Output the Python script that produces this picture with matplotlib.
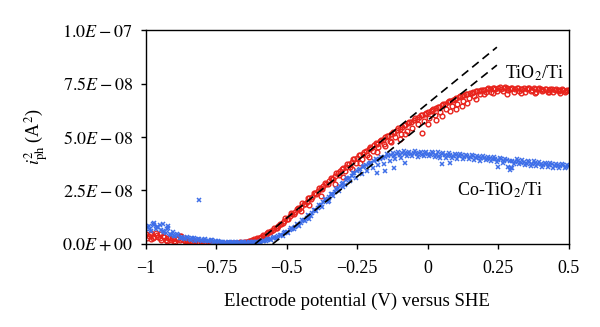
import numpy as np
import matplotlib
matplotlib.use("Agg")
import matplotlib.pyplot as plt

plt.rcParams['font.family'] = ['Liberation Serif', 'DejaVu Serif']
plt.rcParams['mathtext.fontset'] = 'stix'

# Electrode potential sweeps (V vs SHE)
potential = np.round(np.linspace(-1.0, 0.5, 151), 3)
potential2 = np.round(np.linspace(-0.995, 0.495, 150), 3)

# i_ph^2 in units of 1e-9 A^2
tio2 = [4.5, 3.8, 5.0, 3.2, 4.1, 2.6, 3.5, 2.0, 2.9, 1.8,
        1.5, 2.2, 3.6, 2.4, 1.2, 1.6, 1.0, 1.3, 0.8, 1.1,
        0.7, 0.9, 0.5, 0.6, 0.3, 0.4, 0.2, 0.3, 0.1, 0.3,
        0.2, 0.4, 0.3, 0.5, 0.6, 0.8, 0.9, 1.2, 1.6, 2.0,
        2.6, 3.4, 3.9, 4.9, 5.6, 6.5, 7.4, 8.5, 9.3, 10.6,
        11.8, 12.9, 14.2, 15.0, 16.6, 17.4, 18.9, 19.8, 21.5, 22.1,
        23.8, 24.6, 26.0, 27.3, 28.1, 29.6, 30.4, 32.0, 33.1, 33.9,
        35.4, 36.2, 37.5, 38.1, 39.6, 40.4, 41.5, 42.0, 43.6, 44.2,
        44.9, 46.3, 46.8, 48.1, 48.6, 49.9, 50.4, 51.6, 52.0, 53.3,
        53.8, 54.9, 55.6, 56.4, 57.1, 58.0, 58.6, 59.5, 60.1, 60.8,
        61.6, 62.3, 62.9, 63.8, 64.2, 65.1, 65.6, 66.4, 67.0, 67.5,
        68.2, 68.6, 69.3, 69.7, 70.1, 70.6, 70.9, 71.3, 71.5, 71.9,
        72.1, 72.4, 72.3, 72.7, 72.5, 72.9, 72.6, 73.0, 72.8, 72.4,
        72.9, 72.5, 72.8, 72.3, 72.7, 72.4, 72.8, 72.2, 72.6, 72.3,
        72.5, 72.1, 72.4, 72.0, 72.3, 71.9, 72.2, 71.8, 72.1, 71.7,
        71.9]

tio2_b = [3.0, 4.6, 2.7, 4.9, 3.1, 1.9, 3.3, 1.4, 2.6, 2.1,
          1.1, 2.8, 3.9, 1.7, 0.9, 1.4, 0.6, 1.2, 0.5, 0.9,
          0.4, 0.8, 0.3, 0.5, 0.2, 0.4, 0.1, 0.3, 0.2, 0.1,
          0.3, 0.5, 0.4, 0.7, 0.6, 1.1, 1.3, 1.9, 2.2, 3.0,
          2.8, 4.0, 4.3, 5.8, 5.9, 7.5, 7.6, 9.5, 9.6, 11.9,
          11.8, 14.3, 14.0, 16.5, 16.2, 19.0, 18.6, 21.6, 21.0, 23.9,
          23.4, 26.0, 25.7, 28.4, 28.0, 30.8, 30.2, 33.0, 32.1, 35.2,
          34.0, 37.4, 36.0, 39.5, 38.0, 41.6, 39.8, 43.2, 41.7, 45.3,
          43.4, 47.0, 45.2, 48.8, 46.9, 50.6, 48.3, 52.2, 49.9, 54.0,
          51.4, 55.5, 53.0, 57.2, 54.1, 58.8, 55.9, 60.2, 57.3, 61.4,
          58.9, 62.8, 60.3, 64.0, 61.7, 65.4, 62.9, 66.7, 64.4, 68.0,
          65.6, 69.0, 66.8, 70.0, 68.1, 70.8, 69.4, 71.6, 70.3, 72.2,
          71.0, 72.8, 71.2, 73.1, 71.6, 73.3, 71.5, 73.2, 71.8, 73.0,
          71.2, 72.9, 71.6, 72.6, 71.0, 72.9, 71.4, 72.7, 71.1, 72.8,
          71.3, 72.6, 71.2, 72.5, 71.0, 72.4, 71.3, 72.3, 71.0, 72.0]

co_tio2 = [7.0, 8.5, 6.2, 9.0, 7.8, 8.8, 6.0, 5.1, 7.4, 4.2,
           3.5, 4.6, 2.8, 3.3, 2.5, 2.9, 2.0, 2.6, 1.8, 2.2,
           1.5, 2.4, 1.3, 1.7, 1.0, 1.4, 0.8, 1.1, 0.6, 0.9,
           0.5, 0.8, 0.4, 0.7, 0.5, 0.8, 0.6, 0.9, 0.7, 1.0,
           0.9, 1.2, 1.4, 1.8, 2.1, 2.7, 3.0, 3.6, 4.2, 4.9,
           5.5, 6.4, 7.0, 8.1, 8.9, 10.0, 11.0, 12.3, 13.2, 14.6,
           15.8, 17.0, 18.1, 19.5, 20.6, 22.0, 23.4, 24.5, 26.0, 27.2,
           28.4, 29.7, 30.8, 32.0, 33.1, 34.0, 35.0, 35.8, 36.7, 37.3,
           38.0, 38.6, 39.3, 39.7, 40.4, 40.8, 41.0, 41.6, 41.3, 42.0,
           41.7, 42.3, 41.9, 42.5, 42.0, 42.6, 42.1, 42.4, 41.8, 42.5,
           42.2, 41.6, 42.3, 41.8, 41.2, 41.9, 41.4, 41.0, 41.6, 41.1,
           41.5, 40.9, 41.4, 40.8, 41.3, 40.6, 40.9, 40.2, 40.7, 40.0,
           40.4, 39.8, 40.1, 39.5, 39.9, 39.2, 39.6, 38.8, 39.3, 38.6,
           38.9, 38.3, 38.7, 37.9, 38.4, 37.6, 38.1, 37.4, 37.8, 37.2,
           37.6, 37.0, 37.4, 36.8, 37.2, 36.6, 37.0, 36.4, 36.8, 36.2,
           36.5]

co_tio2_b = [8.0, 6.8, 9.3, 7.2, 8.1, 6.6, 5.5, 6.9, 4.8, 5.6,
             3.9, 4.1, 3.0, 2.7, 3.4, 2.3, 2.9, 1.6, 2.5, 1.9,
             2.0, 1.6, 1.2, 1.9, 1.1, 1.3, 0.7, 1.0, 0.5, 0.8,
             0.6, 0.9, 0.3, 0.6, 0.7, 0.4, 1.0, 0.5, 1.1, 0.8,
             1.0, 1.6, 1.3, 2.3, 1.9, 3.2, 2.6, 4.4, 3.9, 5.6,
             5.2, 7.3, 6.8, 9.4, 8.6, 11.2, 10.8, 13.5, 12.9, 15.9,
             15.2, 18.4, 17.3, 20.9, 19.8, 23.5, 22.2, 25.9, 24.6, 28.2,
             27.4, 30.9, 29.4, 33.0, 30.9, 34.6, 32.6, 36.4, 34.1, 37.9,
             35.4, 39.6, 36.9, 40.8, 37.6, 41.9, 38.8, 42.6, 39.9, 43.0,
             40.3, 43.4, 40.9, 43.1, 41.2, 43.6, 40.8, 43.2, 41.3, 43.0,
             41.0, 42.8, 40.6, 42.9, 40.4, 42.5, 40.1, 42.3, 40.0, 42.1,
             39.8, 41.9, 39.5, 41.8, 39.6, 41.4, 39.2, 41.3, 39.0, 40.9,
             39.1, 40.8, 38.6, 40.6, 38.4, 40.2, 37.9, 39.8, 36.2, 35.4,
             37.5, 39.5, 37.2, 39.1, 36.9, 38.8, 36.5, 38.6, 36.4, 38.3,
             36.2, 38.0, 35.9, 37.8, 35.7, 37.6, 35.5, 37.3, 35.4, 37.0]

# scattered points off the main band
tio2_extra_x = [-0.45, -0.42, -0.38, -0.33, -0.30, -0.27, -0.24, -0.21, -0.18, -0.15,
                -0.13, -0.10, -0.08, -0.02, 0.00, 0.03, 0.05, 0.08, 0.10, 0.12,
                0.14, 0.17, 0.20, 0.23, 0.28, 0.33, 0.38, 0.43, 0.47, -0.98, -0.95, -0.88]
tio2_extra_y = [15.5, 18.0, 22.5, 28.0, 31.5, 35.0, 38.0, 40.5, 43.0, 46.0,
                47.5, 49.0, 51.5, 52.0, 56.0, 58.0, 60.0, 62.0, 63.0, 64.5,
                66.0, 68.0, 70.0, 70.5, 70.2, 70.8, 70.5, 71.0, 70.8, 2.5, 4.8, 2.0]
co_extra_x = [-0.81, -0.97, -0.94, -0.92, -0.18, -0.15, -0.12, -0.08, 0.05, 0.08,
              0.25, 0.29, 0.30, -0.35, -0.30, -0.42]
co_extra_y = [20.6, 9.8, 9.4, 8.6, 33.0, 34.0, 35.5, 38.0, 37.5, 38.0,
              36.0, 34.8, 35.5, 20.0, 26.5, 11.5]

# linear fits (dashed)
fit1_x = [-0.613, 0.245]
fit1_y = [0.0, 92.0]
fit2_x = [-0.55, 0.245]
fit2_y = [0.0, 83.6]

scale = 1e-9
red = '#e8231c'
blue = '#3f6fe8'

fig = plt.figure(figsize=(6.0, 3.27), dpi=100)
ax = fig.add_axes([0.243, 0.254, 0.705, 0.654])

red_style = dict(ls='none', marker='o', ms=3.4, mfc='none', mec=red, mew=1.0)
blue_style = dict(ls='none', marker='x', ms=3.4, color=blue, mew=1.1)
ax.plot(potential, np.array(tio2) * scale, **red_style)
ax.plot(potential2, np.array(tio2_b) * scale, **red_style)
ax.plot(tio2_extra_x, np.array(tio2_extra_y) * scale, **red_style)
ax.plot(potential, np.array(co_tio2) * scale, **blue_style)
ax.plot(potential2, np.array(co_tio2_b) * scale, **blue_style)
ax.plot(co_extra_x, np.array(co_extra_y) * scale, **blue_style)

ax.plot(fit1_x, np.array(fit1_y) * scale, color='black', lw=1.2, dashes=(5, 3))
ax.plot(fit2_x, np.array(fit2_y) * scale, color='black', lw=1.2, dashes=(5, 3))

ax.text(0.38, 8.0e-8, r'TiO$_2$/Ti', fontsize=13, ha='center', va='center')
ax.text(0.255, 2.5e-8, r'Co-TiO$_2$/Ti', fontsize=13, ha='center', va='center')

ax.set_xlim(-1.0, 0.5)
ax.set_ylim(0, 1e-7)
xticks = [-1, -0.75, -0.5, -0.25, 0, 0.25, 0.5]
xlabels = ['\u22121', '\u22120.75', '\u22120.5', '\u22120.25', '0', '0.25', '0.5']
ax.set_xticks(xticks)
ax.set_xticklabels(xlabels)
yticks = [0, 2.5e-8, 5e-8, 7.5e-8, 1e-7]
ylabels = [r'$0.0E+00$', r'$2.5E-08$', r'$5.0E-08$', r'$7.5E-08$', r'$1.0E-07$']
ax.set_yticks(yticks)
ax.set_yticklabels(ylabels)
ax.tick_params(labelsize=13, direction='out', length=3.5, width=1)
ax.tick_params(axis='x', pad=8)
ax.tick_params(axis='y', pad=6)
ax.set_xlabel('Electrode potential (V) versus SHE', fontsize=13.5, labelpad=11)
ax.set_ylabel(r'$i_{\rm ph}^{2}$ (A$^2$)', fontsize=13, labelpad=8)
for s in ax.spines.values():
    s.set_linewidth(1)

fig.savefig('out.png', dpi=100)
